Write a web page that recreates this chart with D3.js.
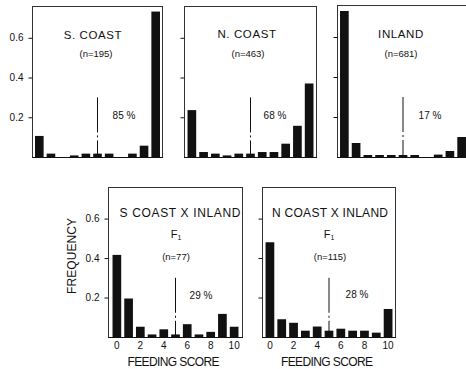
<!DOCTYPE html>
<html>
<head>
<meta charset="utf-8">
<script src="https://cdn.jsdelivr.net/npm/d3@7"></script>
<style>
  html, body { margin: 0; padding: 0; background: #fff; }
  svg { display: block; font-family: "Liberation Sans", Arial, sans-serif; }
</style>
</head>
<body>
<svg id="chart" width="466" height="369"></svg>
<script>
// ---------------- DATA ----------------
const categories = [0, 1, 2, 3, 4, 5, 6, 7, 8, 9, 10];
const sCoast    = [0.106, 0.017, 0, 0.008, 0.017, 0.017, 0.017, 0, 0.017, 0.057, 0.732];
const nCoast    = [0.236, 0.025, 0.017, 0.008, 0.017, 0.017, 0.025, 0.025, 0.067, 0.157, 0.370];
const inland    = [0.730, 0.070, 0.010, 0.010, 0.010, 0.010, 0.010, 0, 0.012, 0.030, 0.100];
const sxInland  = [0.416, 0.195, 0.052, 0.013, 0.039, 0.013, 0.065, 0.013, 0.026, 0.117, 0.052];
const nxInland  = [0.480, 0.090, 0.072, 0.032, 0.053, 0.032, 0.042, 0.032, 0.032, 0.022, 0.142];
const panelTitles = ["S. COAST", "N. COAST", "INLAND", "S COAST X INLAND", "N COAST X INLAND"];
const nLabels     = ["(n=195)", "(n=463)", "(n=681)", "(n=77)", "(n=115)"];
const pctLabels   = ["85 %", "68 %", "17 %", "29 %", "28 %"];
const yTickValues = [0.2, 0.4, 0.6];
const yTickLabels = ["0.2", "0.4", "0.6"];
const xTickValues = [0, 2, 4, 6, 8, 10];
const cutoffScore = 5;
const cutoffHeight = 0.3;
const yMax = 0.76;
const yAxisTitle = "FREQUENCY";
const xAxisTitle = "FEEDING SCORE";

const seriesList = [sCoast, nCoast, inland, sxInland, nxInland];

// ---------------- LAYOUT ----------------
const layout = [
  { x0: 32,  x1: 163, y0: 6,   y1: 157, inset: 1.5, yLabels: true,  xLabels: false, F: false,
    title: [93, 35, 0], n: [96, 53], pct: [124, 115] },
  { x0: 184, x1: 317, y0: 6,   y1: 157, inset: 2,   yLabels: false, xLabels: false, F: false,
    title: [247, 34, 0], n: [248, 53], pct: [275, 115] },
  { x0: 337, x1: 469, y0: 5,   y1: 157, inset: 1.5, yLabels: false, xLabels: false, F: false,
    title: [401, 34, 0], n: [401, 53], pct: [430, 115] },
  { x0: 108, x1: 243, y0: 187, y1: 337, inset: 3,   yLabels: true,  xLabels: true,  F: true,
    title: [180, 213, 121], n: [176, 256], pct: [201, 295], Fpos: [176, 234] },
  { x0: 262, x1: 396, y0: 187, y1: 337, inset: 2,   yLabels: false, xLabels: true,  F: true,
    title: [330, 213, 116], n: [330, 256], pct: [357, 294], Fpos: [329, 234] }
];

const svg = d3.select("#chart");
const ink = "#111";

layout.forEach((L, i) => {
  const data = seriesList[i];
  const x = d3.scaleBand()
    .domain(categories)
    .range([L.x0 + L.inset, L.x1 - L.inset])
    .paddingInner(0.26)
    .paddingOuter(0.13);
  const y = d3.scaleLinear().domain([0, yMax]).range([L.y1, L.y0]);

  const g = svg.append("g");

  // frame
  g.append("rect")
    .attr("x", L.x0 + 0.5).attr("y", L.y0 + 0.5)
    .attr("width", L.x1 - L.x0 - 1).attr("height", L.y1 - L.y0)
    .attr("fill", "none").attr("stroke", "#333").attr("stroke-width", 1);

  // bars
  g.selectAll("rect.bar").data(categories).enter().append("rect")
    .attr("class", "bar")
    .attr("x", d => x(d))
    .attr("width", x.bandwidth())
    .attr("y", d => y(data[d]))
    .attr("height", d => L.y1 - y(data[d]))
    .attr("fill", ink);

  // baseline
  g.append("line")
    .attr("x1", L.x0).attr("x2", L.x1)
    .attr("y1", L.y1 + 0.5).attr("y2", L.y1 + 0.5)
    .attr("stroke", ink).attr("stroke-width", 1.2);

  // y axis ticks
  const yAxis = d3.axisLeft(y)
    .tickValues(yTickValues)
    .tickSize(4)
    .tickPadding(5)
    .tickFormat((d, k) => L.yLabels ? yTickLabels[k] : "");
  const ga = g.append("g").attr("transform", `translate(${L.x0 + 0.5},0)`).call(yAxis);
  ga.select(".domain").remove();
  ga.selectAll("line").attr("stroke", ink);
  ga.selectAll("text").attr("font-size", 10).attr("fill", ink)
    .attr("font-family", "'Liberation Sans', Arial, sans-serif");

  // x tick labels
  if (L.xLabels) {
    const xAxis = d3.axisBottom(x).tickValues(xTickValues).tickSize(0).tickPadding(5)
      .tickFormat(d => String(d));
    const gx = g.append("g").attr("transform", `translate(0,${L.y1})`).call(xAxis);
    gx.select(".domain").remove();
    gx.selectAll("text").attr("font-size", 10).attr("fill", ink)
      .attr("font-family", "'Liberation Sans', Arial, sans-serif");
    svg.append("text")
      .attr("x", (L.x0 + L.x1) / 2 - 2).attr("y", 366)
      .attr("text-anchor", "middle")
      .attr("font-size", 12).attr("fill", ink)
      .attr("textLength", 92).attr("lengthAdjust", "spacing")
      .text(xAxisTitle);
  }

  // cutoff dash-dot line
  const cx = x(cutoffScore) + x.bandwidth() / 2;
  g.append("line")
    .attr("x1", cx).attr("x2", cx)
    .attr("y1", y(cutoffHeight)).attr("y2", L.y1)
    .attr("stroke", ink).attr("stroke-width", 1)
    .attr("stroke-dasharray", "35,3,2,3,200");

  // texts
  const tt = g.append("text")
    .attr("x", L.title[0]).attr("y", L.title[1])
    .attr("text-anchor", "middle").attr("dominant-baseline", "central")
    .attr("font-size", L.title[2] ? 12 : 11.5).attr("fill", ink)
    .attr("letter-spacing", L.title[2] ? null : 0.6)
    .text(panelTitles[i]);
  if (L.title[2]) tt.attr("textLength", L.title[2]).attr("lengthAdjust", "spacing");

  g.append("text")
    .attr("x", L.n[0]).attr("y", L.n[1])
    .attr("text-anchor", "middle").attr("dominant-baseline", "central")
    .attr("font-size", 9.5).attr("fill", ink)
    .text(nLabels[i]);

  g.append("text")
    .attr("x", L.pct[0]).attr("y", L.pct[1])
    .attr("text-anchor", "middle").attr("dominant-baseline", "central")
    .attr("font-size", 10).attr("fill", ink)
    .text(pctLabels[i]);

  if (L.F) {
    const t = g.append("text")
      .attr("x", L.Fpos[0]).attr("y", L.Fpos[1])
      .attr("text-anchor", "middle").attr("dominant-baseline", "central")
      .attr("font-size", 11).attr("fill", ink);
    t.append("tspan").text("F");
    t.append("tspan").attr("font-size", 7).attr("dy", 3).text("1");
  }
});

// y axis title
svg.append("text")
  .attr("transform", "translate(76,256) rotate(-90)")
  .attr("text-anchor", "middle")
  .attr("font-size", 12).attr("fill", ink)
  .attr("textLength", 76).attr("lengthAdjust", "spacing")
  .text(yAxisTitle);
</script>
</body>
</html>
